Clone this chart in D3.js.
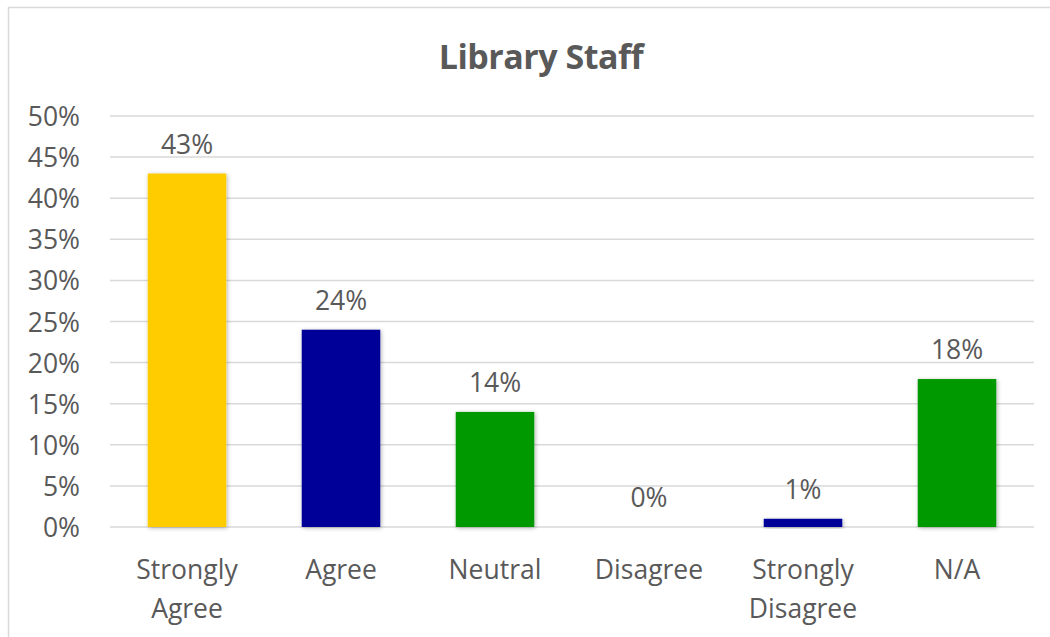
<!DOCTYPE html>
<html><head><meta charset="utf-8">
<script src="https://cdn.jsdelivr.net/npm/d3@7"></script>
<style>body{margin:0;background:#fff;} svg{display:block;}</style>
</head><body>
<script>
const categories = [["Strongly","Agree"],["Agree"],["Neutral"],["Disagree"],["Strongly","Disagree"],["N/A"]];
const values = [43, 24, 14, 0, 1, 18];
const barColors = ["#FFCC00","#000099","#009900","#009900","#000099","#009900"];
const yTicks = [0,5,10,15,20,25,30,35,40,45,50];
const title = "Library Staff";

const W = 1050, H = 637;
const svg = d3.select("body").append("svg").attr("width", W).attr("height", H);
const defs = svg.append("defs");
const f = defs.append("filter").attr("id","sh").attr("x","-20%").attr("y","-20%").attr("width","140%").attr("height","140%");
f.append("feDropShadow").attr("dx",1).attr("dy",1).attr("stdDeviation",2).attr("flood-color","#000").attr("flood-opacity",0.3);

svg.append("rect").attr("x",8.5).attr("y",7.5).attr("width",W+20).attr("height",H+20)
  .attr("fill","#fff").attr("stroke","#d9d9d9").attr("stroke-width",1.5);

const font = "'Open Sans', sans-serif";
const txt = "#595959";

const x = d3.scaleBand().domain(d3.range(categories.length)).range([110,1034]).paddingInner(0.49).paddingOuter(0.245);
const y = d3.scaleLinear().domain([0,50]).range([527,116]);

svg.append("text").attr("x",541).attr("y",69).attr("text-anchor","middle")
  .attr("font-family",font).attr("font-weight","bold").attr("font-size",34).attr("fill",txt)
  .attr("letter-spacing","-0.5").text(title);

const g = svg.append("g");
g.selectAll("line.grid").data(yTicks).join("line").attr("class","grid")
  .attr("x1",110).attr("x2",1034).attr("y1",d=>y(d)).attr("y2",d=>y(d))
  .attr("stroke","#d9d9d9").attr("stroke-width",1.5);

const yAxis = d3.axisLeft(y).tickValues(yTicks).tickFormat(d=>d+"%").tickSize(0).tickPadding(0);
const ya = svg.append("g").attr("transform","translate(80,0)").call(yAxis);
ya.select(".domain").remove();
ya.selectAll("text").attr("font-family",font).attr("font-size",26.5).attr("fill",txt).attr("dy","0.36em");

g.selectAll("rect.bar").data(values).join("rect").attr("class","bar")
  .attr("x",(d,i)=>x(i)).attr("width",x.bandwidth())
  .attr("y",d=>y(d)).attr("height",d=>y(0)-y(d))
  .attr("fill",(d,i)=>barColors[i]).attr("filter",d=>d>0?"url(#sh)":null);

g.selectAll("text.val").data(values).join("text").attr("class","val")
  .attr("x",(d,i)=>x(i)+x.bandwidth()/2).attr("y",d=>y(d)-20)
  .attr("text-anchor","middle").attr("font-family",font).attr("font-size",26.5).attr("fill",txt)
  .text(d=>d+"%");

const cl = g.selectAll("text.cat").data(categories).join("text").attr("class","cat")
  .attr("text-anchor","middle").attr("font-family",font).attr("font-size",26.5).attr("fill",txt);
cl.each(function(d,i){
  const t = d3.select(this);
  d.forEach((s,j)=>{
    t.append("tspan").attr("x",x(i)+x.bandwidth()/2).attr("y",579+j*39).text(s);
  });
});
</script>
</body></html>
